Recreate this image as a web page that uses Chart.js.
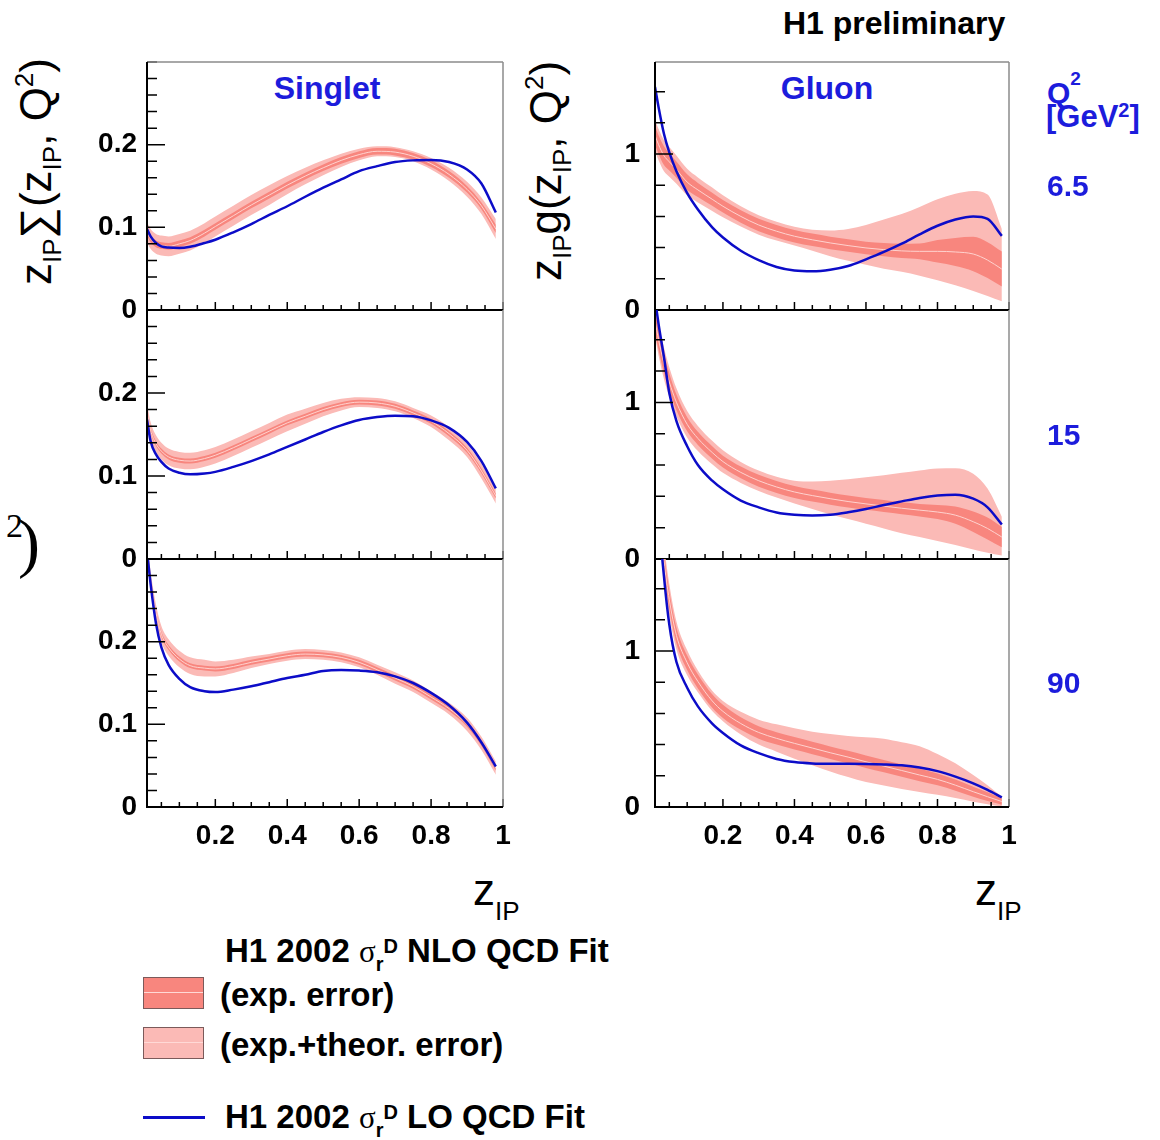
<!DOCTYPE html>
<html>
<head>
<meta charset="utf-8">
<title>H1 diffractive parton densities</title>
<script src="https://cdn.jsdelivr.net/npm/chart.js@4.4.1/dist/chart.umd.min.js"></script>
<style>
  html, body { margin: 0; padding: 0; background: #fff; }
  #page { position: relative; width: 1160px; height: 1140px; overflow: hidden;
          font-family: "Liberation Sans", Arial, sans-serif; color: #000; }
  #page canvas { position: absolute; }
  .t { position: absolute; line-height: 1; white-space: nowrap; }
  .b { font-weight: bold; }
  .blue { color: #1c1cdc; }
  .mid { transform: translateX(-50%); }
  .rel { position: relative; }
  .ytitle { font-size: 44px; transform: rotate(-90deg); transform-origin: 0 0; }
  .serif { font-family: "Liberation Serif", "Times New Roman", serif; font-weight: normal; }
  .swatch { position: absolute; left: 143px; width: 59px; height: 30px; border: 1.5px solid #7b5a5a; }
  .swatch i { position: absolute; left: 0; right: 0; top: 14px; height: 1px; background: #ffd9d6; }
</style>
</head>
<body>
<div id="page">
  <div class="t b" style="left:783px;top:7px;font-size:32px">H1 preliminary</div>
  <div class="t b blue mid" style="left:327px;top:72px;font-size:32px">Singlet</div>
  <div class="t b blue mid" style="left:827px;top:72px;font-size:32px">Gluon</div>
  <div class="t b blue" style="left:1047px;top:78px;font-size:30px">Q<span class="rel" style="font-size:19px;top:-18px">2</span></div>
  <div class="t b blue" style="left:1046px;top:101px;font-size:31px">[GeV<span class="rel" style="font-size:20px;top:-10px">2</span>]</div>

  <div class="t ytitle" style="left:14px;top:285px">z<span class="rel" style="font-size:26px;top:10px">IP</span>∑(z<span class="rel" style="font-size:26px;top:10px">IP</span>, Q<span class="rel" style="font-size:26px;top:-18px">2</span>)</div>
  <div class="t ytitle" style="left:524px;top:281px">z<span class="rel" style="font-size:26px;top:10px">IP</span>g(z<span class="rel" style="font-size:26px;top:10px">IP</span>, Q<span class="rel" style="font-size:26px;top:-18px">2</span>)</div>

  <div class="t serif" style="left:6px;top:509px;font-size:34px">2</div>
  <div class="t serif" style="left:18px;top:510px;font-size:66px">)</div>

  <div class="t" style="left:473px;top:868px;font-size:44px">z<span class="rel" style="font-size:26px;top:15px">IP</span></div>
  <div class="t" style="left:975px;top:868px;font-size:44px">z<span class="rel" style="font-size:26px;top:15px">IP</span></div>

  <div class="t b" style="left:225px;top:934px;font-size:33px">H1 2002 <span class="serif" style="font-size:31px">σ</span><span class="rel" style="font-size:20px;top:9px">r</span><span class="rel" style="font-size:20px;top:-9px">D</span> NLO QCD Fit</div>
  <div class="swatch" style="top:977px;background:#f8867e"><i></i></div>
  <div class="t b" style="left:220px;top:978px;font-size:33px">(exp. error)</div>
  <div class="swatch" style="top:1027px;background:#fbbab6"><i></i></div>
  <div class="t b" style="left:220px;top:1028px;font-size:33px">(exp.+theor. error)</div>
  <div style="position:absolute;left:143px;top:1116px;width:62px;height:2.5px;background:#0c0cc8"></div>
  <div class="t b" style="left:225px;top:1100px;font-size:33px">H1 2002 <span class="serif" style="font-size:31px">σ</span><span class="rel" style="font-size:20px;top:9px">r</span><span class="rel" style="font-size:20px;top:-9px">D</span> LO QCD Fit</div>
</div>

<script>
// z_IP sampling points shared by every curve
const Z_IP = [0.01, 0.02, 0.035, 0.05, 0.07, 0.1, 0.13, 0.17, 0.2, 0.25, 0.3, 0.35, 0.4,
              0.45, 0.5, 0.55, 0.6, 0.65, 0.7, 0.75, 0.8, 0.85, 0.9, 0.94, 0.98];

const Q2_BINS = ['6.5', '15', '90'];

// axis ticks
const X_TICKS = [0.05, 0.1, 0.15, 0.2, 0.25, 0.3, 0.35, 0.4, 0.45, 0.5, 0.55, 0.6, 0.65,
                 0.7, 0.75, 0.8, 0.85, 0.9, 0.95, 1];
const X_LABELS = [0.2, 0.4, 0.6, 0.8, 1];
const SIG_Y_TICKS = [0, 0.02, 0.04, 0.06, 0.08, 0.1, 0.12, 0.14, 0.16, 0.18, 0.2, 0.22,
                     0.24, 0.26, 0.28, 0.3];
const SIG_Y_LABELS = [0, 0.1, 0.2];
const GLU_Y_TICKS = [0, 0.2, 0.4, 0.6, 0.8, 1, 1.2, 1.4];
const GLU_Y_LABELS = [0, 1];

// singlet, Q2 = 6.5
const sigNLO_65   = [0.094,0.086,0.080,0.078,0.077,0.080,0.084,0.093,0.101,0.114,0.127,0.139,0.151,0.162,0.172,0.181,0.188,0.192,0.191,0.186,0.177,0.164,0.146,0.126,0.098];
const sigExpUp_65 = [0.098,0.090,0.084,0.082,0.081,0.084,0.088,0.097,0.105,0.118,0.131,0.143,0.155,0.166,0.176,0.185,0.192,0.196,0.195,0.190,0.181,0.168,0.150,0.130,0.103];
const sigExpDn_65 = [0.090,0.082,0.076,0.074,0.073,0.076,0.080,0.089,0.097,0.110,0.123,0.135,0.147,0.158,0.168,0.177,0.184,0.188,0.187,0.182,0.173,0.160,0.142,0.122,0.093];
const sigTotUp_65 = [0.106,0.098,0.092,0.090,0.089,0.092,0.096,0.105,0.113,0.126,0.139,0.151,0.162,0.172,0.181,0.189,0.195,0.198,0.197,0.192,0.184,0.172,0.155,0.136,0.110];
const sigTotDn_65 = [0.082,0.074,0.068,0.066,0.065,0.068,0.072,0.081,0.089,0.102,0.115,0.127,0.140,0.152,0.163,0.173,0.181,0.186,0.185,0.180,0.170,0.156,0.137,0.116,0.086];
const sigLO_65    = [0.098,0.089,0.081,0.077,0.0755,0.075,0.0765,0.081,0.085,0.094,0.104,0.115,0.1255,0.137,0.148,0.158,0.168,0.174,0.179,0.181,0.1815,0.179,0.170,0.153,0.118];

// singlet, Q2 = 15
const sigNLO_15   = [0.178,0.155,0.139,0.130,0.123,0.119,0.118,0.121,0.125,0.134,0.144,0.154,0.164,0.172,0.180,0.186,0.189,0.188,0.184,0.176,0.166,0.151,0.131,0.106,0.076];
const sigExpUp_15 = [0.181,0.158,0.142,0.133,0.126,0.122,0.121,0.124,0.128,0.137,0.147,0.157,0.167,0.175,0.183,0.189,0.192,0.191,0.187,0.179,0.169,0.154,0.134,0.109,0.079];
const sigExpDn_15 = [0.175,0.152,0.136,0.127,0.120,0.116,0.115,0.118,0.122,0.131,0.141,0.151,0.161,0.169,0.177,0.183,0.186,0.185,0.181,0.173,0.163,0.148,0.128,0.103,0.073];
const sigTotUp_15 = [0.188,0.165,0.149,0.140,0.133,0.129,0.128,0.131,0.135,0.144,0.154,0.164,0.174,0.181,0.188,0.193,0.195,0.194,0.190,0.182,0.173,0.159,0.139,0.115,0.085];
const sigTotDn_15 = [0.168,0.145,0.129,0.120,0.113,0.109,0.108,0.111,0.115,0.124,0.134,0.144,0.154,0.163,0.172,0.179,0.183,0.182,0.178,0.170,0.159,0.143,0.123,0.097,0.067];
const sigLO_15    = [0.168,0.142,0.126,0.117,0.109,0.104,0.102,0.103,0.105,0.111,0.118,0.126,0.135,0.144,0.153,0.161,0.1675,0.171,0.1727,0.172,0.167,0.158,0.141,0.118,0.085];

// singlet, Q2 = 90
const sigNLO_90   = [0.312,0.275,0.235,0.209,0.193,0.179,0.171,0.168,0.167,0.170,0.175,0.179,0.183,0.185,0.184,0.181,0.175,0.166,0.156,0.146,0.133,0.119,0.100,0.077,0.047];
const sigExpUp_90 = [0.315,0.278,0.238,0.212,0.196,0.182,0.174,0.171,0.170,0.173,0.178,0.182,0.186,0.188,0.187,0.184,0.178,0.169,0.159,0.149,0.136,0.122,0.103,0.080,0.050];
const sigExpDn_90 = [0.309,0.272,0.232,0.206,0.190,0.176,0.168,0.165,0.164,0.167,0.172,0.176,0.180,0.182,0.181,0.178,0.172,0.163,0.153,0.143,0.130,0.116,0.097,0.074,0.044];
const sigTotUp_90 = [0.322,0.285,0.245,0.219,0.203,0.189,0.181,0.178,0.176,0.178,0.182,0.185,0.189,0.191,0.190,0.187,0.181,0.172,0.163,0.153,0.140,0.126,0.108,0.085,0.055];
const sigTotDn_90 = [0.302,0.265,0.225,0.199,0.183,0.169,0.161,0.158,0.158,0.162,0.168,0.173,0.177,0.179,0.178,0.175,0.169,0.160,0.149,0.139,0.126,0.112,0.092,0.069,0.039];
const sigLO_90    = [0.310,0.270,0.222,0.193,0.172,0.155,0.145,0.140,0.139,0.142,0.146,0.151,0.156,0.160,0.1645,0.1657,0.165,0.163,0.158,0.150,0.138,0.123,0.102,0.078,0.049];

// gluon, Q2 = 6.5
const gluNLO_65   = [1.12,1.06,0.99,0.95,0.90,0.82,0.77,0.71,0.665,0.60,0.545,0.505,0.473,0.450,0.430,0.413,0.398,0.387,0.379,0.376,0.376,0.372,0.359,0.320,0.262];
const gluExpUp_65 = [1.18,1.12,1.05,1.005,0.952,0.87,0.815,0.752,0.705,0.64,0.585,0.545,0.513,0.49,0.47,0.453,0.438,0.429,0.424,0.426,0.448,0.462,0.469,0.435,0.375];
const gluExpDn_65 = [1.06,1.00,0.93,0.895,0.848,0.77,0.725,0.668,0.625,0.56,0.505,0.465,0.433,0.41,0.39,0.373,0.358,0.345,0.334,0.326,0.304,0.282,0.249,0.205,0.15];
const gluTotUp_65 = [1.22,1.16,1.09,1.045,0.99,0.905,0.85,0.785,0.735,0.665,0.607,0.565,0.533,0.515,0.51,0.52,0.545,0.58,0.615,0.66,0.71,0.745,0.763,0.74,0.52];
const gluTotDn_65 = [1.02,0.96,0.89,0.855,0.81,0.735,0.69,0.635,0.595,0.535,0.483,0.445,0.413,0.38,0.345,0.315,0.29,0.265,0.245,0.22,0.19,0.158,0.122,0.09,0.056];
const gluLO_65    = [1.43,1.30,1.13,1.01,0.89,0.75,0.645,0.53,0.465,0.38,0.32,0.276,0.253,0.248,0.258,0.282,0.325,0.372,0.425,0.485,0.540,0.580,0.600,0.585,0.475];

// gluon, Q2 = 15
const gluNLO_15   = [1.52,1.40,1.25,1.13,1.00,0.86,0.77,0.68,0.622,0.553,0.50,0.46,0.428,0.405,0.385,0.367,0.352,0.338,0.324,0.312,0.30,0.28,0.238,0.195,0.14];
const gluExpUp_15 = [1.59,1.465,1.31,1.185,1.05,0.905,0.812,0.72,0.66,0.591,0.538,0.498,0.466,0.443,0.423,0.405,0.39,0.376,0.362,0.352,0.345,0.335,0.303,0.265,0.205];
const gluExpDn_15 = [1.45,1.335,1.19,1.075,0.95,0.815,0.728,0.64,0.584,0.515,0.462,0.422,0.39,0.367,0.347,0.329,0.314,0.30,0.286,0.272,0.255,0.225,0.173,0.125,0.075];
const gluTotUp_15 = [1.62,1.50,1.35,1.225,1.09,0.945,0.85,0.755,0.695,0.62,0.565,0.525,0.50,0.495,0.50,0.51,0.522,0.535,0.55,0.565,0.578,0.58,0.545,0.45,0.27];
const gluTotDn_15 = [1.42,1.30,1.15,1.035,0.91,0.775,0.69,0.605,0.55,0.486,0.435,0.392,0.355,0.32,0.285,0.255,0.225,0.195,0.165,0.14,0.115,0.09,0.06,0.04,0.022];
const gluLO_15    = [1.66,1.50,1.29,1.06,0.88,0.72,0.60,0.50,0.445,0.373,0.33,0.297,0.282,0.277,0.282,0.298,0.319,0.345,0.368,0.39,0.405,0.41,0.385,0.33,0.22];

// gluon, Q2 = 90
const gluNLO_90   = [2.3,1.95,1.58,1.33,1.10,0.925,0.805,0.68,0.613,0.535,0.478,0.44,0.408,0.378,0.348,0.32,0.29,0.262,0.234,0.205,0.177,0.14,0.098,0.066,0.035];
const gluExpUp_90 = [2.37,2.015,1.64,1.385,1.15,0.972,0.85,0.723,0.655,0.575,0.518,0.48,0.448,0.418,0.388,0.36,0.33,0.302,0.274,0.245,0.215,0.176,0.13,0.094,0.055];
const gluExpDn_90 = [2.23,1.885,1.52,1.275,1.05,0.878,0.76,0.637,0.571,0.495,0.438,0.40,0.368,0.338,0.308,0.28,0.25,0.222,0.194,0.165,0.139,0.104,0.066,0.038,0.015];
const gluTotUp_90 = [2.45,2.08,1.69,1.43,1.19,1.005,0.875,0.745,0.68,0.61,0.56,0.53,0.505,0.483,0.468,0.456,0.447,0.438,0.415,0.39,0.34,0.28,0.205,0.14,0.066];
const gluTotDn_90 = [2.15,1.82,1.47,1.23,1.01,0.845,0.735,0.615,0.55,0.465,0.40,0.355,0.31,0.268,0.228,0.192,0.16,0.138,0.115,0.096,0.078,0.058,0.034,0.018,0.003];
const gluLO_90    = [2.4,1.9,1.48,1.17,0.93,0.765,0.645,0.535,0.475,0.395,0.345,0.308,0.288,0.279,0.277,0.277,0.276,0.273,0.267,0.253,0.23,0.195,0.152,0.11,0.062];

const LO_BLUE  = '#0c0cc8';
const EXP_FILL = '#f8867e';
const TOT_FILL = '#fbbab6';
const NLO_LINE = '#ffd2ce';
const TICK_FONT = { family: 'Liberation Sans', weight: 'bold', size: 28 };

const SINGLET = { yMax: 0.3, yTicks: SIG_Y_TICKS, yLabels: SIG_Y_LABELS };
const GLUON   = { yMax: 1.59, yTicks: GLU_Y_TICKS, yLabels: GLU_Y_LABELS };

// rows = Q2 bins, columns = singlet / gluon
const GRID = [
  [ { ...SINGLET, nlo: sigNLO_65, expUp: sigExpUp_65, expDn: sigExpDn_65, totUp: sigTotUp_65, totDn: sigTotDn_65, lo: sigLO_65 },
    { ...GLUON,   nlo: gluNLO_65, expUp: gluExpUp_65, expDn: gluExpDn_65, totUp: gluTotUp_65, totDn: gluTotDn_65, lo: gluLO_65 } ],
  [ { ...SINGLET, nlo: sigNLO_15, expUp: sigExpUp_15, expDn: sigExpDn_15, totUp: sigTotUp_15, totDn: sigTotDn_15, lo: sigLO_15 },
    { ...GLUON,   nlo: gluNLO_15, expUp: gluExpUp_15, expDn: gluExpDn_15, totUp: gluTotUp_15, totDn: gluTotDn_15, lo: gluLO_15 } ],
  [ { ...SINGLET, nlo: sigNLO_90, expUp: sigExpUp_90, expDn: sigExpDn_90, totUp: sigTotUp_90, totDn: sigTotDn_90, lo: sigLO_90 },
    { ...GLUON,   nlo: gluNLO_90, expUp: gluExpUp_90, expDn: gluExpDn_90, totUp: gluTotUp_90, totDn: gluTotDn_90, lo: gluLO_90 } ]
];

// canvas placement for each column / row
const COLUMNS = [
  { left: 0,   width: 520, axisWidth: 147, padRight: 17,  labelPad: 10 },
  { left: 520, width: 640, axisWidth: 135, padRight: 151, labelPad: 15 }
];
const ROWS = [
  { top: 42,  height: 288, padTop: 20, padBottom: 20, xAxisHeight: 0 },
  { top: 290, height: 289, padTop: 20, padBottom: 20, xAxisHeight: 0 },
  { top: 539, height: 338, padTop: 20, padBottom: 0,  xAxisHeight: 70 }
];

const hasValue = (list, v) => list.some(u => Math.abs(u - v) < 1e-9);
const tickText = v => (v === 0 ? '0' : Number.isInteger(v) ? String(v) : v.toFixed(1));
const curve = ys => Z_IP.map((x, i) => ({ x, y: ys[i] }));

// inward tick marks and the box around each panel
const panelFrame = {
  id: 'panelFrame',
  afterDatasetsDraw(chart, args, opts) {
    const { ctx, chartArea: a, scales: { x, y } } = chart;
    ctx.save();
    ctx.strokeStyle = '#000';
    ctx.lineWidth = 1.5;
    ctx.beginPath();
    for (const t of y.ticks) {
      const py = y.getPixelForValue(t.value);
      const len = hasValue(opts.yMajor, t.value) ? 18 : 10;
      ctx.moveTo(a.left, py);
      ctx.lineTo(a.left + len, py);
    }
    for (const t of x.ticks) {
      const px = x.getPixelForValue(t.value);
      const len = hasValue(X_LABELS, t.value) ? 8 : 5;
      ctx.moveTo(px, a.bottom);
      ctx.lineTo(px, a.bottom - len);
    }
    ctx.stroke();

    ctx.strokeStyle = '#8c8c8c';
    ctx.beginPath();
    ctx.moveTo(a.right, a.bottom);
    ctx.lineTo(a.right, a.top);
    if (opts.drawTop) {
      ctx.moveTo(a.left, a.top);
      ctx.lineTo(a.right, a.top);
    }
    ctx.stroke();

    ctx.strokeStyle = '#000';
    ctx.lineWidth = 2;
    ctx.beginPath();
    ctx.moveTo(a.left, a.top);
    ctx.lineTo(a.left, a.bottom);
    ctx.lineTo(a.right, a.bottom);
    ctx.stroke();
    ctx.restore();
  }
};

const page = document.getElementById('page');

function buildPanel(row, col, s) {
  const c = COLUMNS[col], r = ROWS[row];
  const bottomRow = row === ROWS.length - 1;
  const canvas = document.createElement('canvas');
  canvas.width = c.width;
  canvas.height = r.height;
  canvas.style.left = c.left + 'px';
  canvas.style.top = r.top + 'px';
  canvas.style.width = c.width + 'px';
  canvas.style.height = r.height + 'px';
  page.appendChild(canvas);

  const line = { pointRadius: 0, cubicInterpolationMode: 'monotone', fill: false };
  const edge = { ...line, borderWidth: 0, borderColor: 'transparent' };

  new Chart(canvas, {
    type: 'line',
    data: {
      datasets: [
        { ...line, label: 'LO QCD Fit', data: curve(s.lo), borderColor: LO_BLUE, borderWidth: 2.5 },
        { ...line, label: 'NLO QCD Fit', data: curve(s.nlo), borderColor: NLO_LINE, borderWidth: 1 },
        { ...edge, label: 'exp. error', data: curve(s.expUp), backgroundColor: EXP_FILL, fill: '+1' },
        { ...edge, label: 'exp. error low', data: curve(s.expDn) },
        { ...edge, label: 'exp.+theor. error', data: curve(s.totUp), backgroundColor: TOT_FILL, fill: '+1' },
        { ...edge, label: 'exp.+theor. error low', data: curve(s.totDn) }
      ]
    },
    options: {
      responsive: false,
      animation: false,
      devicePixelRatio: 1,
      layout: { padding: { top: r.padTop, bottom: r.padBottom, left: 0, right: c.padRight } },
      scales: {
        x: {
          type: 'linear', min: 0.01, max: 1,
          grid: { display: false, drawTicks: false },
          border: { display: false },
          afterBuildTicks: sc => { sc.ticks = X_TICKS.map(v => ({ value: v })); },
          afterFit: sc => {
            sc.height = r.xAxisHeight;
            sc.paddingLeft = 0;
            sc.paddingRight = 0;
          },
          ticks: {
            display: bottomRow, autoSkip: false, maxRotation: 0, minRotation: 0,
            padding: 12, color: '#000', font: TICK_FONT,
            callback: v => (hasValue(X_LABELS, v) ? tickText(v) : '')
          }
        },
        y: {
          type: 'linear', min: 0, max: s.yMax,
          grid: { display: false, drawTicks: false },
          border: { display: false },
          afterBuildTicks: sc => { sc.ticks = s.yTicks.map(v => ({ value: v })); },
          afterFit: sc => {
            sc.width = c.axisWidth;
            sc.paddingTop = 0;
            sc.paddingBottom = 0;
          },
          ticks: {
            autoSkip: false, padding: c.labelPad, color: '#000', font: TICK_FONT,
            callback: v => (hasValue(s.yLabels, v) ? tickText(v) : '')
          }
        }
      },
      plugins: {
        legend: { display: false },
        tooltip: { enabled: false },
        panelFrame: { yMajor: s.yLabels, drawTop: row === 0 }
      }
    },
    plugins: [panelFrame]
  });
}

GRID.forEach((cells, row) => cells.forEach((s, col) => buildPanel(row, col, s)));

// Q2 value of each row, right of the gluon column
Q2_BINS.forEach((q, row) => {
  const r = ROWS[row];
  const mid = r.top + r.padTop + (r.height - r.padTop - r.padBottom - r.xAxisHeight) / 2;
  const el = document.createElement('div');
  el.className = 't b blue';
  el.style.left = '1047px';
  el.style.top = (mid + 10.5 - 0.8465 * 30) + 'px';
  el.style.fontSize = '30px';
  el.textContent = q;
  page.appendChild(el);
});
</script>
</body>
</html>
